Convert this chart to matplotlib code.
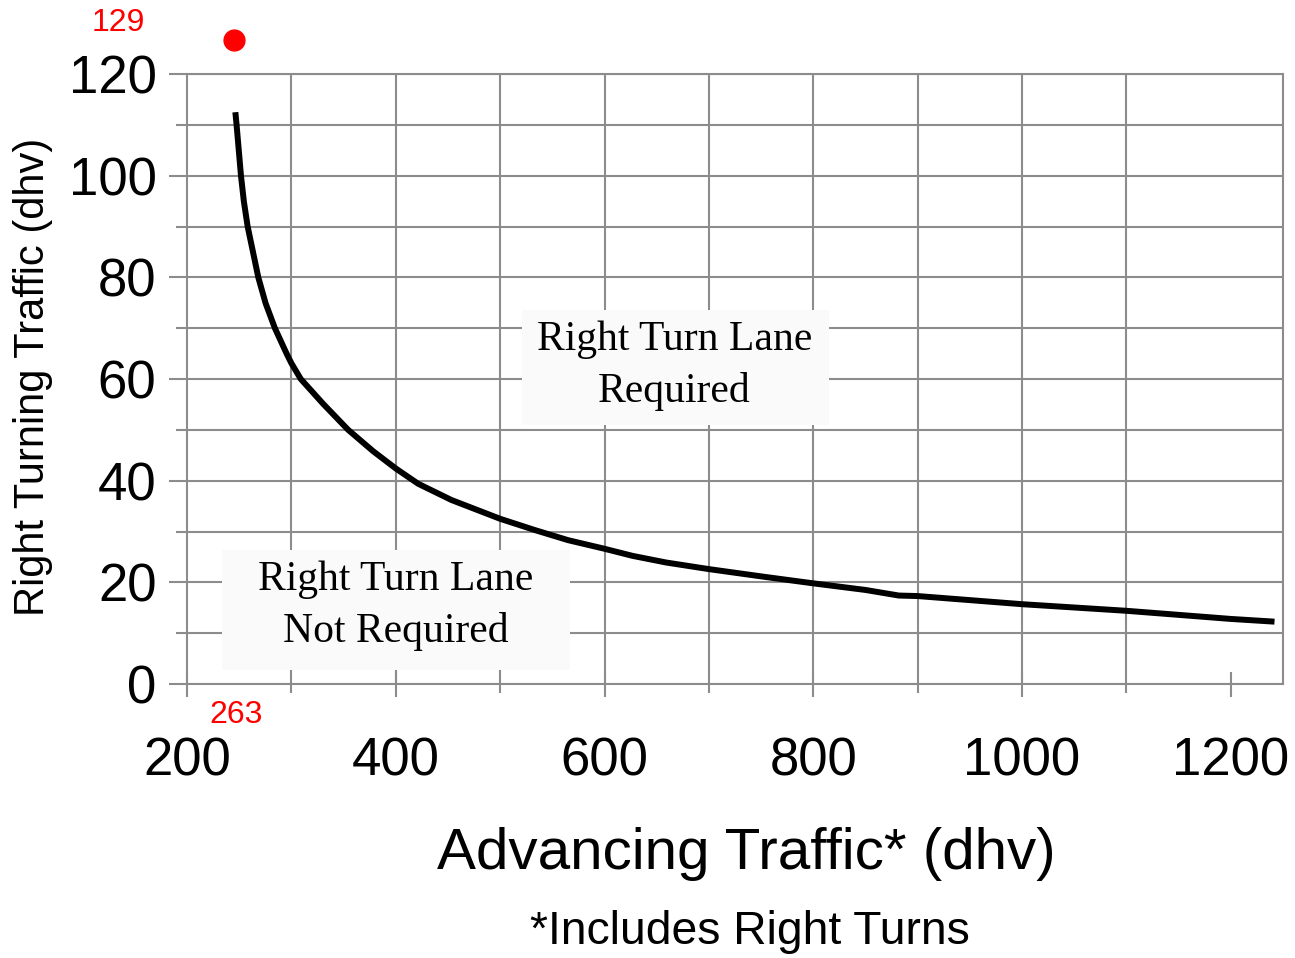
import numpy as np
import matplotlib.pyplot as plt
from matplotlib.patches import Rectangle
from matplotlib.ticker import MultipleLocator

# curve
advancing = [246.6, 247.5, 251.7, 254.5, 258.1, 268.3, 275.3, 284.2, 295.4, 300, 309,
             330.5, 354.4, 378.3, 400, 421.4, 453.3, 500, 533, 565, 600, 627, 659,
             700, 752.6, 800, 850, 882, 900, 1000, 1100, 1200, 1239]
right_turns = [111.9, 110, 100, 94.9, 90, 80, 74.9, 70, 65, 63.1, 60,
               55.1, 50, 45.8, 42.4, 39.4, 36.2, 32.5, 30.3, 28.3, 26.6, 25.2, 23.9,
               22.6, 21.1, 19.8, 18.5, 17.4, 17.3, 15.7, 14.4, 12.8, 12.3]

# highlighted point and its labels
point_x = [245]
point_y = [126.7]
point_label_x = '263'
point_label_y = '129'

x_ticks = [200, 400, 600, 800, 1000, 1200]
y_ticks = [0, 20, 40, 60, 80, 100, 120]

sans = 'Liberation Sans'
serif = 'Liberation Serif'
grid_col = '#8c8c8c'

fig = plt.figure(figsize=(12.95, 9.58), dpi=100)
ax = fig.add_axes([187 / 1295, 1 - 684 / 958, 1096 / 1295, 610 / 958])

ax.set_xlim(200, 1250)
ax.set_ylim(0, 120)

# grid
ax.yaxis.set_minor_locator(MultipleLocator(10))
ax.xaxis.set_minor_locator(MultipleLocator(100))
ax.set_xticks(x_ticks)
ax.set_yticks(y_ticks)
ax.grid(axis='y', which='both', color=grid_col, linewidth=1.5)
ax.vlines(np.arange(300, 1200, 100), 0, 120, color=grid_col, linewidth=1.5, zorder=0.5)
ax.set_axisbelow(True)

for s in ax.spines.values():
    s.set_color(grid_col)
    s.set_linewidth(1.5)

ax.tick_params(axis='x', which='major', direction='inout', length=18, width=1.5,
               color=grid_col, pad=29)
ax.tick_params(axis='x', which='minor', direction='out', length=6.5, width=1.5,
               color=grid_col)
ax.tick_params(axis='y', which='major', direction='out', length=13, width=1.5,
               color=grid_col, pad=9)
ax.tick_params(axis='y', which='minor', direction='out', length=8, width=1.5,
               color=grid_col)
for lab in ax.get_xticklabels() + ax.get_yticklabels():
    lab.set_fontfamily(sans)
    lab.set_fontsize(38)

ax.plot(advancing, right_turns, color='black', linewidth=4.3, zorder=3,
        solid_joinstyle='round')

# red point above the frame
ax.plot(point_x, point_y, 'o', color='#ff0000', markersize=15, clip_on=False, zorder=5)
ax.text(134, 130.0, point_label_y, color='#ff0000', fontsize=23, family=sans,
        ha='center', va='center', clip_on=False)
ax.text(247, -6.1, point_label_x, color='#ff0000', fontsize=23, family=sans,
        ha='center', va='center', clip_on=False)

# region labels on light boxes
ax.add_patch(Rectangle((520.6, 51.0), 294.7, 22.6, facecolor='#fafafa',
                       edgecolor='none', zorder=2))
ax.add_patch(Rectangle((233.5, 2.75), 333, 23.65, facecolor='#fafafa',
                       edgecolor='none', zorder=2))
ax.text(667, 62.6, 'Right Turn Lane\nRequired', family=serif, fontsize=30,
        ha='center', va='center', linespacing=1.45, zorder=4)
ax.text(400, 15.4, 'Right Turn Lane\nNot Required', family=serif, fontsize=30,
        ha='center', va='center', linespacing=1.45, zorder=4)

ax.set_xlabel('Advancing Traffic* (dhv)', family=sans, fontsize=42, va='center')
ax.xaxis.set_label_coords(0.51, -0.279)
ax.set_ylabel('Right Turning Traffic (dhv)', family=sans, fontsize=30, va='center')
ax.yaxis.set_label_coords(-0.1405, 0.504)

fig.text(750 / 1295, 1 - 932 / 958, '*Includes Right Turns', family=sans,
         fontsize=33.3, ha='center', va='center')

fig.savefig('out.png', dpi=100)
